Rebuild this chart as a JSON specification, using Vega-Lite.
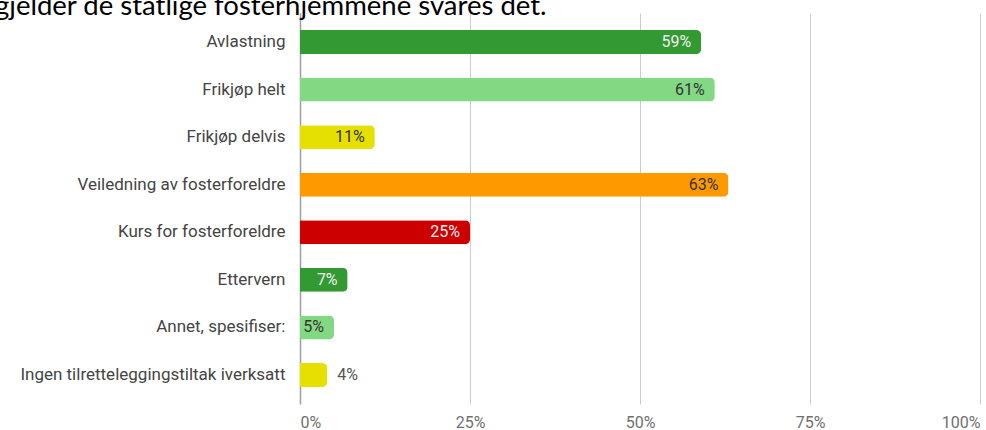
{
  "$schema": "https://vega.github.io/schema/vega-lite/v6.json",
  "width": 680,
  "height": 391,
  "autosize": {"type": "none"},
  "padding": {"left": 300, "top": 13, "right": 6, "bottom": 26},
  "background": "white",
  "title": {
    "text": "gjelder de statlige fosterhjemmene svares det.",
    "font": "Lato",
    "fontSize": 27.5,
    "fontWeight": "normal",
    "color": "#000000",
    "anchor": "start",
    "frame": "group",
    "baseline": "alphabetic",
    "offset": 0,
    "dx": -305,
    "dy": 29
  },
  "config": {
    "view": {"stroke": null},
    "font": "Roboto"
  },
  "data": {
    "values": [
      {"tiltak": "Avlastning", "andel": 0.59},
      {"tiltak": "Frikjøp helt", "andel": 0.61},
      {"tiltak": "Frikjøp delvis", "andel": 0.11},
      {"tiltak": "Veiledning av fosterforeldre", "andel": 0.63},
      {"tiltak": "Kurs for fosterforeldre", "andel": 0.25},
      {"tiltak": "Ettervern", "andel": 0.07},
      {"tiltak": "Annet, spesifiser:", "andel": 0.05},
      {"tiltak": "Ingen tilretteleggingstiltak iverksatt", "andel": 0.04}
    ]
  },
  "encoding": {
    "y": {
      "field": "tiltak",
      "type": "nominal",
      "sort": null,
      "scale": {"paddingInner": 0.495, "paddingOuter": 0.357},
      "axis": {
        "title": null,
        "ticks": false,
        "domain": true,
        "domainColor": "#9e9e9e",
        "domainWidth": 1.5,
        "labelPadding": 15,
        "labelLimit": 0,
        "labelFont": "Roboto",
        "labelFontSize": 17,
        "labelColor": "#444444",
        "grid": false
      }
    },
    "x": {
      "field": "andel",
      "type": "quantitative",
      "scale": {"domain": [0, 1]},
      "axis": {
        "title": null,
        "values": [0, 0.25, 0.5, 0.75, 1],
        "format": ".0%",
        "grid": true,
        "gridColor": "#cccccc",
        "gridWidth": 1,
        "domain": false,
        "ticks": false,
        "labelFlush": true,
        "labelPadding": 10,
        "labelFont": "Roboto",
        "labelFontSize": 16,
        "labelColor": "#707070"
      }
    }
  },
  "layer": [
    {
      "mark": {"type": "bar", "cornerRadiusEnd": 5},
      "encoding": {
        "color": {
          "field": "tiltak",
          "type": "nominal",
          "legend": null,
          "scale": {
            "domain": ["Avlastning", "Frikjøp helt", "Frikjøp delvis", "Veiledning av fosterforeldre", "Kurs for fosterforeldre", "Ettervern", "Annet, spesifiser:", "Ingen tilretteleggingstiltak iverksatt"],
            "range": ["#339933", "#83d883", "#e6e000", "#ff9900", "#cc0000", "#339933", "#83d883", "#e6e000"]
          }
        }
      }
    },
    {
      "transform": [{"filter": "datum.andel >= 0.045"}],
      "mark": {"type": "text", "align": "right", "baseline": "middle", "dx": -10, "font": "Roboto", "fontSize": 16},
      "encoding": {
        "text": {"field": "andel", "type": "quantitative", "format": ".0%"},
        "color": {
          "condition": {"test": "indexof(['Avlastning','Kurs for fosterforeldre','Ettervern'], datum.tiltak) >= 0", "value": "#f2f2f2"},
          "value": "#333333"
        }
      }
    },
    {
      "transform": [{"filter": "datum.andel < 0.045"}],
      "mark": {"type": "text", "align": "left", "baseline": "middle", "dx": 10, "font": "Roboto", "fontSize": 16, "color": "#555555"},
      "encoding": {
        "text": {"field": "andel", "type": "quantitative", "format": ".0%"}
      }
    }
  ]
}
